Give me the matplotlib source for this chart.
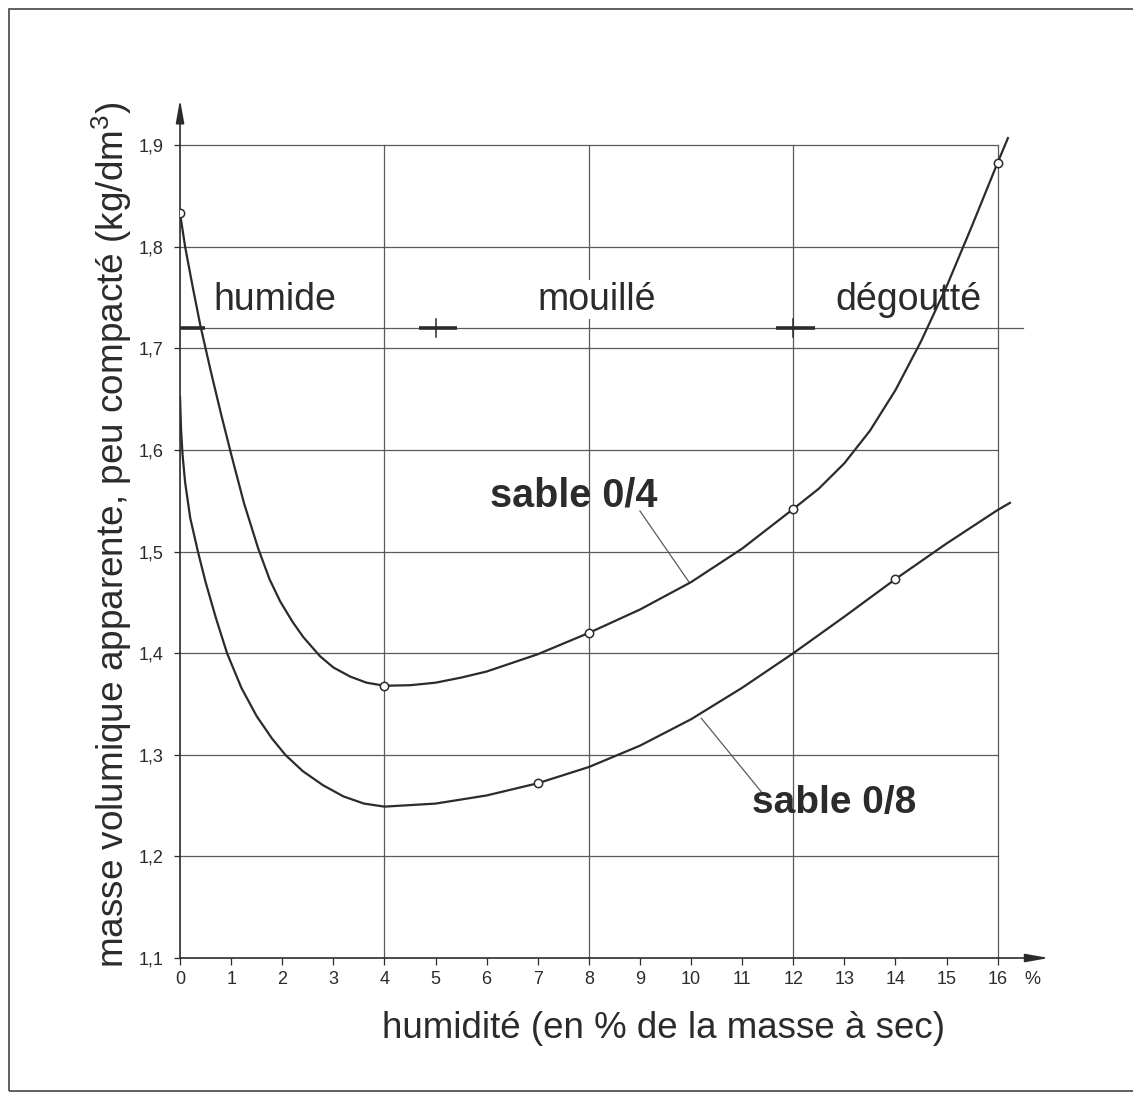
import matplotlib
matplotlib.use("Agg")
import matplotlib.pyplot as plt
from matplotlib.patches import Rectangle

plt.rcParams["font.family"] = ["Liberation Sans", "DejaVu Sans"]
plt.rcParams["mathtext.default"] = "regular"

INK = "#2b2b2b"
GRID = "#5a5a5a"
NARROW = ["Liberation Sans Narrow", "Liberation Sans", "DejaVu Sans"]

s04_x = [0, 0.1, 0.25, 0.4, 0.6, 0.8, 1.0, 1.25, 1.53, 1.75, 1.96, 2.2, 2.41,
         2.74, 3.0, 3.33, 3.65, 4.0, 4.5, 5.0, 5.5, 6.0, 7.0, 8.0, 9.0, 10.0,
         11.0, 12.0, 12.5, 13.0, 13.5, 14.0, 14.5, 15.0, 15.5, 16.0, 16.2]
s04_y = [1.833, 1.80, 1.76, 1.722, 1.678, 1.636, 1.596, 1.548, 1.503, 1.473, 1.451,
         1.431, 1.416, 1.397, 1.386, 1.377, 1.371, 1.368, 1.3685, 1.371, 1.376,
         1.382, 1.399, 1.42, 1.443, 1.47, 1.503, 1.542, 1.562, 1.587, 1.619,
         1.659, 1.707, 1.761, 1.821, 1.883, 1.907]
s04_mx = [0, 4, 8, 12, 16]
s04_my = [1.833, 1.368, 1.42, 1.542, 1.883]

# sable 0/8
s08_x = [0, 0.02, 0.05, 0.1, 0.2, 0.35, 0.5, 0.7, 0.92, 1.2, 1.5, 1.8, 2.06, 2.4,
         2.8, 3.2, 3.6, 4.0, 5.0, 6.0, 7.0, 8.0, 9.0, 10.0, 11.0, 12.0, 13.0,
         14.0, 15.0, 16.0, 16.24]
s08_y = [1.652, 1.62, 1.595, 1.568, 1.533, 1.50, 1.47, 1.435, 1.40, 1.366, 1.338,
         1.316, 1.30, 1.284, 1.27, 1.259, 1.252, 1.249, 1.252, 1.26, 1.272, 1.288,
         1.309, 1.335, 1.366, 1.40, 1.436, 1.473, 1.508, 1.541, 1.548]
s08_mx = [7, 14]
s08_my = [1.272, 1.473]

x_ticks = list(range(17))
y_ticks = [1.1, 1.2, 1.3, 1.4, 1.5, 1.6, 1.7, 1.8, 1.9]
y_labels = ["1,1", "1,2", "1,3", "1,4", "1,5", "1,6", "1,7", "1,8", "1,9"]
v_grid = [4, 8, 12, 16]

zone_level = 1.72
zone_bounds = [0, 5, 12]
zone_names = ["humide", "mouillé", "dégoutté"]
zone_text_x = [1.86, 8.15, 14.25]

fig = plt.figure(figsize=(11.33, 10.97), dpi=100)
fig.patches.append(Rectangle((9 / 1133, 6 / 1097), 1140 / 1133, 1082 / 1097,
                             transform=fig.transFigure, fill=False,
                             edgecolor="#444444", lw=1.2))

ax = fig.add_axes([0.1589, 0.1267, 0.7758, 0.7872])
ax.set_xlim(0, 17.2)
ax.set_ylim(1.1, 1.95)
for s in ax.spines.values():
    s.set_visible(False)

# grid
for y in y_ticks[1:]:
    ax.plot([0, 16], [y, y], color=GRID, lw=0.9, zorder=1)
for x in v_grid:
    ax.plot([x, x], [1.1, 1.9], color=GRID, lw=0.9, zorder=1)

# axes with arrows
arrow = dict(arrowstyle="-|>,head_length=1.4,head_width=0.25", color=INK, lw=1.2,
             shrinkA=0, shrinkB=0)
ax.annotate("", xy=(17.0, 1.1), xytext=(0, 1.1), arrowprops=arrow, annotation_clip=False)
ax.annotate("", xy=(0, 1.945), xytext=(0, 1.1), arrowprops=arrow, annotation_clip=False)

ax.set_xticks(x_ticks)
ax.set_xticklabels([str(v) for v in x_ticks], family=NARROW)
ax.set_xticks([16.68], ["%"], minor=True, family=NARROW)
ax.set_yticks(y_ticks)
ax.set_yticklabels(y_labels, family=NARROW)
ax.tick_params(axis="x", direction="out", length=5, width=0.9, pad=4,
               labelsize=13, color=INK, labelcolor=INK)
ax.tick_params(axis="x", which="minor", length=0, pad=9, labelsize=13,
               labelcolor=INK)
ax.tick_params(axis="y", direction="out", length=4, width=0.9, pad=8,
               labelsize=13, color=INK, labelcolor=INK)

# curves
ax.plot(s04_x, s04_y, color=INK, lw=1.6, zorder=3, solid_joinstyle="round")
ax.plot(s08_x, s08_y, color=INK, lw=1.6, zorder=3, solid_joinstyle="round")
ax.plot(s04_mx, s04_my, "o", ms=6, mfc="white", mec=INK, mew=1.1, zorder=4)
ax.plot(s08_mx, s08_my, "o", ms=6, mfc="white", mec=INK, mew=1.1, zorder=4)

# zone dimension line
ax.plot([0, 16.5], [zone_level, zone_level], color=GRID, lw=0.9, zorder=2)
ax.plot([zone_bounds[0], zone_bounds[0] + 0.48], [zone_level, zone_level],
        color=INK, lw=2.6, zorder=3, solid_capstyle="butt")
for b in zone_bounds[1:]:
    ax.plot([b - 0.33, b + 0.42], [zone_level, zone_level], color=INK, lw=2.6,
            zorder=3, solid_capstyle="butt")
    ax.plot([b, b], [zone_level - 0.009, zone_level + 0.009], color=INK, lw=1.1, zorder=3)
for name, tx in zip(zone_names, zone_text_x):
    ax.text(tx, 1.748, name, ha="center", va="center", fontsize=27, color=INK,
            bbox=dict(facecolor="white", edgecolor="none", pad=1), zorder=2.5)

# curve labels with leader lines
ax.text(7.7, 1.555, "sable 0/4", ha="center", va="center", fontsize=28.5,
        fontweight="bold", color=INK)
ax.plot([9.96, 9.0], [1.47, 1.54], color=GRID, lw=0.9)
ax.text(12.8, 1.253, "sable 0/8", ha="center", va="center", fontsize=28,
        fontweight="bold", color=INK)
ax.plot([10.2, 11.4], [1.336, 1.262], color=GRID, lw=0.9)

fig.text(112 / 1133, 1 - 535 / 1097,
         "masse volumique apparente, peu compacté (kg/dm$^3$)",
         rotation=90, ha="center", va="center", fontsize=26.6, color=INK)
fig.text(664 / 1133, 1 - 1028 / 1097, "humidité (en % de la masse à sec)",
         ha="center", va="center", fontsize=26.5, color=INK)

fig.savefig("out.png", dpi=100, facecolor="white")
